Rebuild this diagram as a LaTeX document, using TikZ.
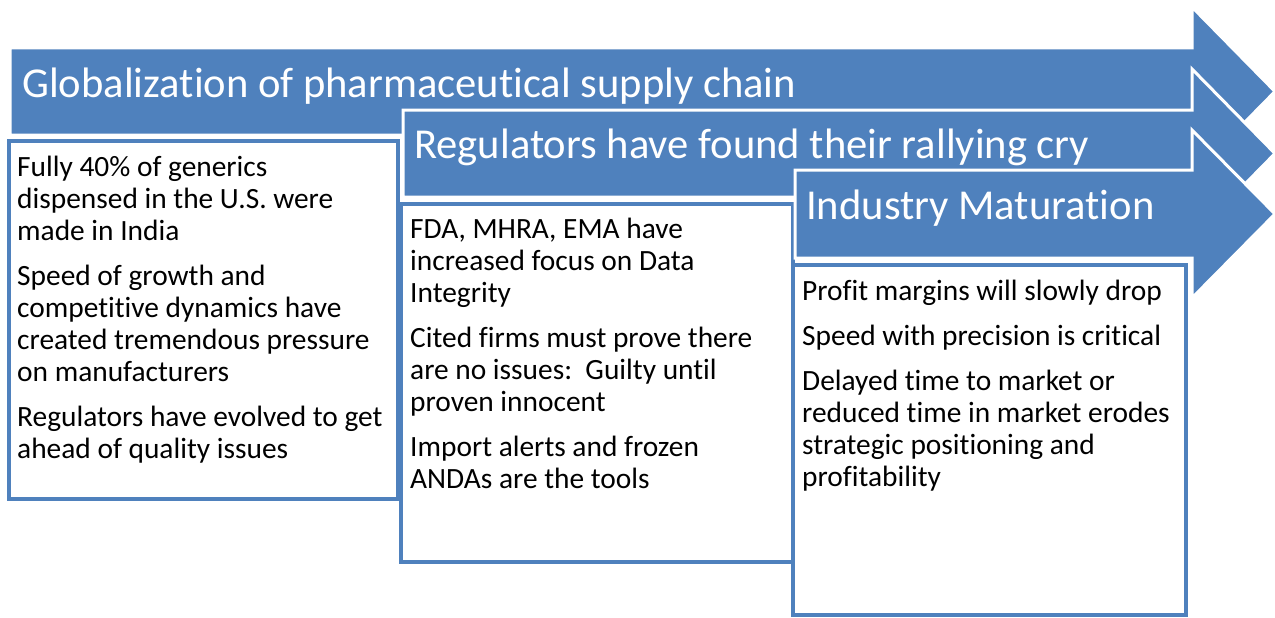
\documentclass[tikz,border=0pt]{standalone}
\usepackage{fontspec}
\setmainfont{Carlito}[Ligatures=CommonOff]
\usetikzlibrary{positioning}
\definecolor{myblue}{HTML}{4F81BD}
\tikzset{
  band/.style={fill=myblue, draw=white, line width=3pt, line join=miter},
  panel/.style={rectangle, draw=myblue, fill=white, line width=4pt, outer sep=0pt, inner sep=0pt, anchor=north west},
  heading/.style={text=white, font=\fontsize{42.6}{50}\selectfont, inner sep=0pt, anchor=base west},
  bodytext/.style={text=black, font=\fontsize{29.4}{32}\selectfont, align=left, inner sep=0pt}
}

\begin{document}
\begin{tikzpicture}[x=1pt, y=-1pt]
\useasboundingbox (0,0) rectangle (1275,618);

% Stage 1
\draw[band] (10,48) -- (1192,48) -- (1192,7) -- (1275,91.5) -- (1192,176) -- (1192,135) -- (10,135) -- cycle;
\node[heading] (h1) at (22,97) {Globalization of pharmaceutical supply chain};
\node[panel, minimum width=389pt, minimum height=358pt] (b1) at (9,141) {};
\node[bodytext, below right=15pt and 8pt of b1.north west] (t1) {Fully 40\% of generics\\dispensed in the U.S. were\\made in India\\[13pt]
  Speed of growth and\\competitive dynamics have\\created tremendous pressure\\on manufacturers\\[13pt]
  Regulators have evolved to get\\ahead of quality issues};

% Stage 2
\draw[band] (403,110) -- (1192,110) -- (1192,69) -- (1275,153.5) -- (1192,238) -- (1192,197) -- (403,197) -- cycle;
\node[heading] (h2) at (414,158) {Regulators have found their rallying cry};
\node[panel, minimum width=392pt, minimum height=357.5pt] (b2) at (401,204) {};
\node[bodytext, below right=14pt and 9pt of b2.north west] (t2) {FDA, MHRA, EMA have\\increased focus on Data\\Integrity\\[13pt]
  Cited firms must prove there\\are no issues:\ \ Guilty until\\proven innocent\\[13pt]
  Import alerts and frozen\\ANDAs are the tools};

% Stage 3
\draw[band] (795,170) -- (1192,170) -- (1192,130) -- (1275,214) -- (1192,298) -- (1192,258) -- (795,258) -- cycle;
\node[heading] (h3) at (806,219) {Industry Maturation};
\node[panel, minimum width=392.5pt, minimum height=350pt] (b3) at (793,265) {};
\node[bodytext, below right=15pt and 9pt of b3.north west] (t3) {Profit margins will slowly drop\\[13pt]
  Speed with precision is critical\\[13pt]
  Delayed time to market or\\reduced time in market erodes\\strategic positioning and\\profitability};

\end{tikzpicture}
\end{document}
